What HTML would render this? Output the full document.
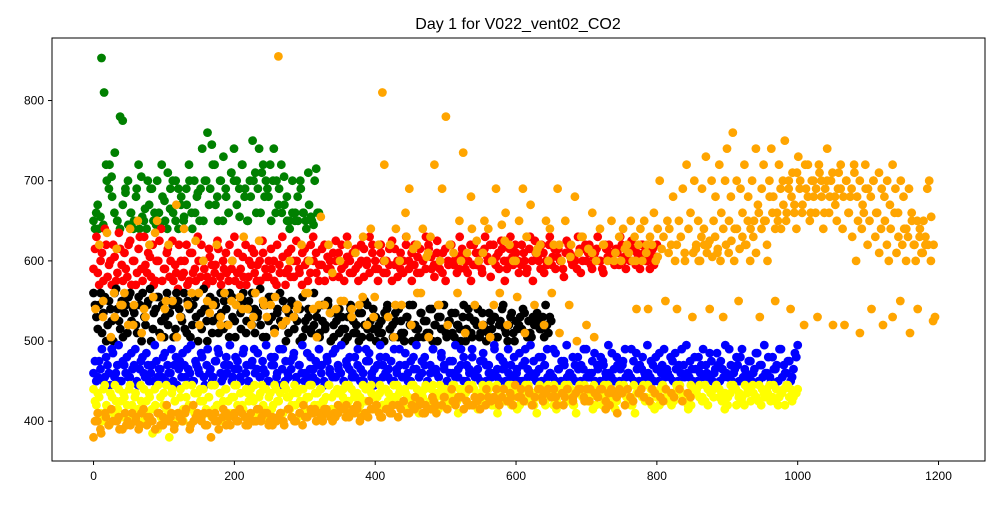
<!DOCTYPE html>
<html><head><meta charset="utf-8"><style>
html,body{margin:0;padding:0;background:#fff;}
svg text{font-family:"Liberation Sans","DejaVu Sans",sans-serif;}
</style></head><body>
<svg id="chart" width="1000" height="500" xmlns="http://www.w3.org/2000/svg">
<rect width="1000" height="500" fill="#fff"/>
<text x="518" y="29" text-anchor="middle" font-size="16" fill="#000">Day 1 for V022_vent02_CO2</text>
<g id="marks"></g>
<rect x="52" y="38" width="933" height="423" fill="none" stroke="#000" stroke-width="1"/>
<g id="axes"></g>
</svg>
<script>
const xTicks=[0,200,400,600,800,1000,1200];
const yTicks=[400,500,600,700,800];
const seriesNames=["green","red","black","blue","yellow","orange","green-b","red-b","black-b","blue-b","yellow-b","orange-b"];
const seriesColors=["#008000","#ff0000","#000000","#0000ff","#ffff00","#ffa500","#008000","#ff0000","#000000","#0000ff","#ffff00","#ffa500"];
const seriesStart=[0,0,0,0,0,0,2,2,2,2,2,2];
const seriesEnd=[320,800,650,1000,1000,1195,318,798,648,998,998,1193];
const drawOrder=[0,6,1,7,2,8,3,9,4,10,5,11];
const greenY=[650,660,640,853,810,700,720,680,735,650,780,775,690,700,660,640,680,720,705,650,640,670,690,660,700,645,680,650,710,690,660,700,640,670,650,690,720,660,700,680,650,740,700,760,690,720,670,650,700,730,680,660,710,740,700,690,720,680,650,700,750,710,690,660,720,700,680,650,740,700,690,660,670,650,640,660,650,680,700,660,650,710,655,645,715,660];
const greenY2=[640,670,655,645,720,690,705,660,650,640,670,685,645,660,650,690,640,655,665,700,690,650,645,660,720,675,640,665,700,650,690,680,655,670,700,640,660,685,690,650,700,670,745,720,680,700,650,690,660,710,700,670,655,720,690,650,680,700,660,740,710,680,690,720,700,660,670,720,705,680,650,700,660,650,690,660,640,670,650,700,660];
const redY=[590,630,570,610,640,580,600,620,575,635,595,610,580,625,600,570,615,590,630,585,605,620,575,600,640,590,610,580,625,595,565,600,585,620,575,610,590,630,580,600,570,615,595,585,625,580,600,610,575,590,630,585,570,605,620,580,595,610,575,600,625,590,580,615,600,570,595,630,585,610,580,600,625,590,570,615,600,585,630,610,575,595,620,590,600,580,625,610,590,575,630,600,585,615,595,620,580,600,630,610,590,575,620,600,585,615,625,595,580,610,600,630,590,575,620,605,585,600,630,615,590,580,625,600,610,575,595,620,600,585,630,610,590,600,575,620,595,610,585,630,600,580,620,605,590,615,575,600,630,595,610,585,620,600,590,630,575,610,600,620,585,595,630,605,590,615,600,580,625,610,595,600,630,585,615,600,620,590,610,630,600,585,615,620,600,595,610,630,600,590,615,625,600,610,590,620,600,615,605,595,620];
const redY2=[615,585,600,575,620,595,570,605,585,615,575,590,620,570,600,585,630,575,595,610,580,570,600,625,575,590,615,600,575,585,620,580,600,570,610,585,575,600,620,590,580,605,575,595,615,570,590,585,620,600,575,610,590,580,570,600,615,585,595,575,610,580,600,590,575,620,585,605,570,590,615,580,600,585,610,595,575,620,600,585,595,615,575,605,590,610,600,580,620,595,605,585,610,590,575,600,615,595,585,620,600,590,610,585,600,595,575,615,600,590,585,620,600,610,595,585,615,600,590,620,605,595,610,590,585,615,600,620,595,605,590,615,600,585,620,595,610,600,590,615,605,620,600,595,610,625,600,590,615,605,620,600,595,610,585,615,600,625,605,590,610,600,620,595,615,605,600,590,610,620,600,605,590,615,600,620,610,595,605,615,600,590,620,605,610,600,615,595,620,605,610,600,615,595,605,620,610,600,590,615,605];
const blackY=[560,530,545,510,555,520,540,500,565,525,550,535,510,560,540,520,555,500,530,545,565,515,540,555,525,505,560,535,545,515,550,530,560,510,540,520,555,500,535,565,525,545,510,550,530,560,515,540,505,555,525,545,535,560,510,550,520,540,530,565,505,545,525,555,515,535,560,520,540,510,550,530,545,500,555,525,540,515,560,530,510,545,520,550,535,505,525,540,515,500,530,545,510,520,535,505,550,515,525,540,500,520,510,535,545,515,505,525,540,510,500,530,520,545,515,505,535,525,510,540,500,520,530,515,545,505,525,510,535,520,500,545,515,530,505,525,540,510,520,500,535,515,530,505,525,545,510,520,535,500,515,530,540,510,525,505,520,535,515,530,545,510,525];
const blackY2=[545,515,560,535,500,550,525,560,540,515,505,545,555,525,535,510,545,560,520,550,500,535,555,510,545,530,520,550,505,560,540,525,515,550,505,545,530,560,515,540,500,555,525,545,510,535,550,520,560,530,505,545,515,550,525,540,560,510,535,520,545,505,555,530,515,540,525,550,500,535,545,515,525,540,505,515,530,510,520,540,505,525,515,545,500,520,535,510,530,515,505,540,525,510,500,535,520,545,505,515,530,510,525,500,540,515,520,535,505,525,510,530,545,500,520,515,535,505,525,510,540,520,500,530,515,510,525,535,505,520,515,530,500,540,510,525,520,505,535,515,510,525,530,505,520,540,515,500,530,510,525,520,515,535,505,510,530,520,525,515,505,520,530];
const blueY=[460,450,475,490,455,470,445,485,460,495,450,470,480,455,465,490,445,475,460,485,450,470,495,455,465,480,450,460,490,470,445,475,485,455,465,495,450,470,460,480,445,490,465,455,475,485,450,470,460,495,455,480,465,450,490,470,445,475,460,485,455,465,495,450,470,480,460,445,490,475,455,465,485,450,470,495,460,455,480,465,450,490,470,445,475,460,485,455,465,495,450,470,480,460,455,490,465,450,475,485,460,445,470,495,455,480,465,450,490,460,470,455,485,450,475,465,495,455,460,480,450,470,490,460,455,485,465,450,475,460,495,455,470,480,450,465,490,460,455,475,485,450,470,460,495,455,480,465,450,490,470,455,460,485,450,475,465,495,455,460,480,450,470,490,460,455,485,465,450,475,495,460,455,470,480,450,465,490,455,460,485,470,450,475,460,495,455,465,480,450,470,490,460,455,475,485,450,465,460,495,455,470,480,450,460,490,465,455,475,485,450,460,470,495,455,465,480,450,460,490,470,455,475,460,485,450,465,495,455,470,460,480,450,490,465,455,475,460,485,450,470,495,460,455,480,465,450,490,470,460,475,455,485,495];
const blueY2=[475,455,465,450,480,460,490,455,470,450,475,460,455,485,470,450,465,480,455,470,460,450,475,465,455,485,470,460,450,480,465,455,470,490,460,450,475,465,485,455,470,460,450,475,490,460,455,480,470,450,465,475,455,485,460,450,470,490,465,455,475,460,450,480,470,455,490,465,450,460,475,480,455,470,460,450,485,465,455,475,470,460,450,480,465,455,490,470,460,450,475,465,455,480,470,450,460,490,475,455,465,450,480,470,460,455,475,450,465,490,455,470,460,450,480,465,455,475,470,450,460,490,465,455,480,470,450,460,475,455,465,490,450,470,460,480,455,465,450,475,470,460,455,490,465,450,475,470,460,455,480,465,450,470,490,455,460,475,450,465,480,470,455,460,490,450,465,475,470,455,460,480,450,465,470,490,455,460,475,450,465,480,470,455,460,485,450,470,465,475,455,460,490,450,465,470,480,455,460,475,450,465,485,470,455,460,480,450,465,470,490,455,460,475,450,465,480,470,455,460,485,450,465,470,475,455,460,490,450,465,470,480,455,460,475,450,465,485,470,455,460,480,450,465,470,490,455,460,475,450,465,480];
const yellowY=[440,420,430,400,445,415,435,410,425,440,405,430,420,445,400,435,415,425,440,410,430,385,420,445,405,435,415,380,440,425,410,430,400,445,420,415,435,405,440,425,410,430,445,415,420,435,400,440,425,410,430,445,415,420,405,435,440,425,410,430,445,415,400,435,420,440,425,410,445,430,415,435,420,405,440,425,430,445,410,435,420,440,425,415,445,430,410,435,420,440,425,445,415,430,435,420,410,440,425,445,430,415,435,420,440,425,410,445,430,435,420,440,415,425,445,430,410,435,440,420,425,445,430,415,435,440,420,425,445,430,410,435,440,425,420,445,430,415,435,440,425,445,420,430,410,435,440,425,445,420,430,415,435,440,425,445,430,420,410,435,440,425,445,430,420,415,435,440,445,425,430,420,410,435,440,445,425,430,415,420,435,440,445,425,430,420,415,435,440,445,430,425,420,410,435,440,445,430,425,420,415,435,440,445,430,425,420,435,440,445,430,425,415,420,435,440,445,430,425,420,435,440,445,430,425,415,420,435,445,440,430,425,420,435,440,445,430,425,420,435,440,445,430,425,420,435,440,445,430,425,435,440];
const yellowY2=[425,435,410,440,420,395,430,445,415,425,435,405,440,420,430,410,445,400,425,435,415,440,390,430,420,445,410,435,425,400,440,415,430,420,445,410,435,425,440,415,430,405,445,420,435,425,440,410,430,445,420,435,415,440,425,430,445,410,435,420,440,430,415,445,425,435,410,440,430,420,445,435,425,440,415,430,445,420,435,440,425,430,445,415,435,440,420,430,445,425,440,435,420,430,445,425,440,435,415,430,445,420,440,435,425,430,445,440,420,435,430,445,425,440,435,430,445,420,440,425,435,445,430,440,420,435,445,425,440,430,435,445,420,440,430,425,445,435,440,430,420,445,435,440,425,430,445,440,435,420,430,445,440,425,435,430,445,440,420,435,430,445,425,440,435,430,445,440,420,435,445,430,440,425,435,445,440,430,420,435,445,440,430,425,445,435,440,430,420,445,435,440,430,425,445,440,435,430,420,445,440,435,430,425,445,440,435,430,420,445,440,435,430,425,445,440,435,430,445,440,425,435,430,445,440,420,435,430,445,440,425,435,430,445,440,430,435,425,445,440,430,435,420,445,440,430,435];
const orangeY=[380,540,400,620,385,550,410,635,395,505,400,530,615,405,545,390,560,395,520,640,410,545,400,650,395,510,415,530,405,620,400,555,390,650,410,505,395,540,420,620,405,550,395,670,410,530,400,640,415,545,390,560,400,625,410,520,405,600,395,550,410,380,545,400,620,390,530,405,560,410,520,395,600,405,545,400,555,410,630,395,540,405,520,400,560,415,625,400,550,410,530,395,545,405,510,400,855,410,520,395,540,415,600,405,530,400,545,410,620,420,560,405,600,410,540,415,505,410,655,400,545,415,620,405,585,410,540,420,600,415,550,405,620,410,530,415,610,420,545,405,630,410,520,425,640,415,555,420,620,405,810,720,415,530,620,410,505,640,420,600,545,425,660,410,690,520,615,430,620,420,560,640,410,605,505,630,430,720,420,545,600,690,430,780,520,620,440,610,425,560,650,430,735,510,610,440,680,420,545,625,600,430,520,650,440,640,505,600,430,690,425,560,645,440,660,520,620,430,600,445,555,650,430,690,510,630,440,670,420,545,610,440,620,430,520,650,440,640,560,620,430,690,510,600,420,650,440,545,620,430,680,500,610,440,630,425,520,615,440,660,505,600,430,640,440,620,415,600,420,650,435,610,410,630,600,640,420,620,610,650,600,630,540,620,640,600,650,610,540,630,620,660,600,640,700,615,630,550,650,640,620,680,600,540,650,630,690,610,720,640,660,530,700,620,650,600,690,640,730,620,540,700,650,680,610,720,660,530,700,740,650,680,760,640,700,550,690,660,720,620,680,600,700,650,740,670,530,690,720,650,600,700,740,680,550,660,720,640,700,750,660,690,540,710,670,640,730,700,660,520,690,720,650,700,680,660,530,710,700,640,690,740,660,700,520,680,650,710,690,640,520,700,660,680,630,720,600,650,510,640,660,690,620,650,540,700,630,660,610,640,520,650,620,600,640,530,660,610,630,550,620,640,600,630,510,650,620,600,540,630,610,650,620,690,700,655,525,530];
const orangeY2=[400,410,390,530,405,395,415,560,400,390,545,410,400,395,520,405,390,410,540,395,405,400,635,410,395,405,550,400,410,390,505,405,400,410,545,395,420,405,560,400,410,395,535,405,410,400,520,415,395,405,550,410,400,415,540,405,395,410,530,400,415,405,545,410,400,395,555,405,410,400,525,415,405,400,540,410,395,405,560,415,410,400,545,405,415,410,535,400,405,410,550,415,420,405,540,410,415,400,555,410,405,415,530,420,410,405,600,415,410,420,545,405,415,425,630,410,420,415,560,425,410,420,610,415,425,410,545,420,430,415,620,425,420,430,600,415,425,420,640,430,425,415,610,420,430,425,545,440,420,430,625,425,435,420,600,430,440,425,630,435,420,430,615,440,425,435,600,430,440,420,620,435,430,440,605,425,435,440,630,430,440,425,610,435,430,440,620,425,435,440,600,430,440,435,615,440,430,425,600,435,440,430,620,425,440,435,605,430,425,440,610,435,430,620,440,425,600,435,430,610,615,600,630,620,610,625,605,630,615,600,640,620,610,625,600,640,615,630,620,650,640,630,610,660,640,650,620,680,660,640,650,690,670,650,700,680,660,710,690,670,720,680,660,700,690,720,680,660,700,680,710,670,690,720,680,700,660,690,710,680,700,670,720,690,680,700,660,710,690,680,700,670,720,690,660,700,680,640,690,660,620,650,640,610,630,620,600,620];
const seriesData=[greenY,redY,blackY,blueY,yellowY,orangeY,greenY2,redY2,blackY2,blueY2,yellowY2,orangeY2];

const X0=52,X1=985,Y0=38,Y1=461,XMIN=-59,XMAX=1266,YMIN=350.4,YMAX=878;
function sx(v){return X0+(v-XMIN)/(XMAX-XMIN)*(X1-X0);}
function sy(v){return Y1-(v-YMIN)/(YMAX-YMIN)*(Y1-Y0);}
const NS="http://www.w3.org/2000/svg";
const marks=document.getElementById('marks');
drawOrder.forEach(function(s){
  const arr=seriesData[s];
  const g=document.createElementNS(NS,'g');
  
  
  marks.appendChild(g);
  const n=arr.length;
  arr.forEach(function(v,i){
    const xv=seriesStart[s]+(seriesEnd[s]-seriesStart[s])*i/(n-1);
    const c=document.createElementNS(NS,'circle');
    
    
    c.setAttribute('cx',sx(xv).toFixed(1));
    c.setAttribute('cy',sy(v).toFixed(1));
    c.setAttribute('r','4.4');
    c.setAttribute('fill',seriesColors[s]);
    g.appendChild(c);
  });
});
const axes=document.getElementById('axes');
xTicks.forEach(function(t){
  const x=sx(t);
  const l=document.createElementNS(NS,'line');
  
  
  l.setAttribute('x1',x);l.setAttribute('x2',x);l.setAttribute('y1',Y1);l.setAttribute('y2',Y1+4);
  l.setAttribute('stroke','#000');axes.appendChild(l);
  const tx=document.createElementNS(NS,'text');
  
  
  tx.setAttribute('x',x);tx.setAttribute('y',Y1+19);tx.setAttribute('text-anchor','middle');
  tx.setAttribute('font-size','12');tx.textContent=t;axes.appendChild(tx);
});
yTicks.forEach(function(t){
  const y=sy(t);
  const l=document.createElementNS(NS,'line');
  
  
  l.setAttribute('x1',X0-4);l.setAttribute('x2',X0);l.setAttribute('y1',y);l.setAttribute('y2',y);
  l.setAttribute('stroke','#000');axes.appendChild(l);
  const tx=document.createElementNS(NS,'text');
  
  
  tx.setAttribute('x',X0-8);tx.setAttribute('y',y+4);tx.setAttribute('text-anchor','end');
  tx.setAttribute('font-size','12');tx.textContent=t;axes.appendChild(tx);
});
</script>
</body></html>
